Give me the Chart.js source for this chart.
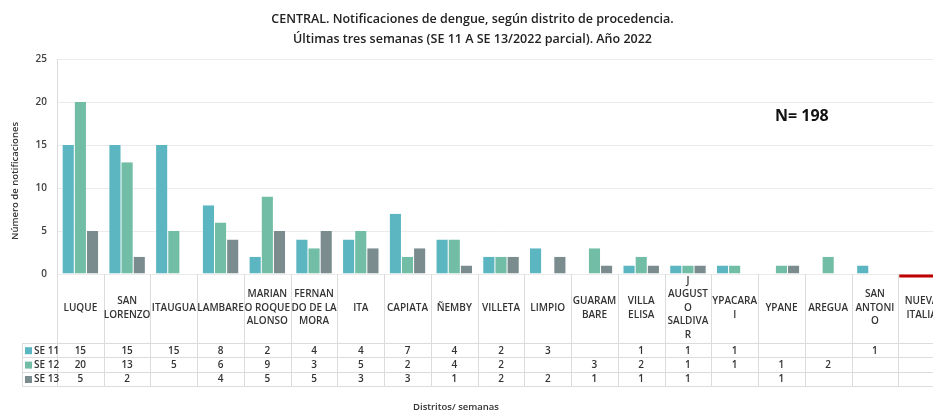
<!DOCTYPE html>
<html>
<head>
<meta charset="utf-8">
<script src="https://cdn.jsdelivr.net/npm/chart.js@4"></script>
<style>
    html, body { margin: 0; padding: 0; background: #fff; overflow: hidden; }
    #wrap { width: 957px; height: 410px; }
</style>
</head>
<body>
<div id="wrap"><canvas id="chart" width="957" height="410"></canvas></div>
<script>
// Districts (label lines as wrapped in the original table)
const districts = [
    ['LUQUE'], ['SAN', 'LORENZO'], ['ITAUGUA'], ['LAMBARE'],
    ['MARIAN', 'O ROQUE', 'ALONSO'], ['FERNAN', 'DO DE LA', 'MORA'],
    ['ITA'], ['CAPIATA'], ['ÑEMBY'], ['VILLETA'], ['LIMPIO'],
    ['GUARAM', 'BARE'], ['VILLA', 'ELISA'], ['J', 'AUGUST', 'O', 'SALDIVA', 'R'],
    ['YPACARA', 'I'], ['YPANE'], ['AREGUA'], ['SAN', 'ANTONI', 'O'], ['NUEVA', 'ITALIA']
];
const weeks = ['SE 11', 'SE 12', 'SE 13'];
const se11 = [15, 15, 15, 8, 2, 4, 4, 7, 4, 2, 3, null, 1, 1, 1, null, null, 1, null];
const se12 = [20, 13, 5, 6, 9, 3, 5, 2, 4, 2, null, 3, 2, 1, 1, 1, 2, null, null];
const se13 = [5, 2, null, 4, 5, 5, 3, 3, 1, 2, 2, 1, 1, 1, null, 1, null, null, null];
const yTicks = [0, 5, 10, 15, 20, 25];
const totalN = 198;

const colors = ['#5bb6c2', '#72bda5', '#7a8c8e'];
const FONT = '"Open Sans", "Noto Sans", sans-serif';
const series = [se11, se12, se13];

// Draws the data table under the axis, axis titles, the N label and the red marker
const tablePlugin = {
    id: 'dataTable',
    afterDraw(chart) {
        const ctx = chart.ctx;
        const x = chart.scales.x;
        const y = chart.scales.y;
        const area = chart.chartArea;
        const n = districts.length;
        const cw = (area.right - area.left) / n;
        const rowTop = 343, rowH = 14.4;
        const tableBottom = rowTop + rowH * 3;
        const labelLeft = 22;

        ctx.save();
        ctx.strokeStyle = '#dcdcdc';
        ctx.lineWidth = 1;

        // vertical dividers
        for (let i = 0; i <= n; i++) {
            const bx = Math.round(area.left + i * cw) + 0.5;
            ctx.beginPath();
            ctx.moveTo(bx, area.bottom);
            ctx.lineTo(bx, tableBottom);
            ctx.stroke();
        }
        // label column left edge
        ctx.beginPath();
        ctx.moveTo(labelLeft + 0.5, rowTop);
        ctx.lineTo(labelLeft + 0.5, tableBottom);
        ctx.stroke();
        // row lines
        for (let r = 0; r <= 3; r++) {
            const ry = Math.round(rowTop + r * rowH) + 0.5;
            ctx.beginPath();
            ctx.moveTo(labelLeft, ry);
            ctx.lineTo(area.right, ry);
            ctx.stroke();
        }

        // district names
        ctx.fillStyle = '#333';
        ctx.font = '600 10px ' + FONT;
        ctx.textAlign = 'center';
        ctx.textBaseline = 'middle';
        const lh = 13.4;
        districts.forEach((lines, i) => {
            const cx = x.getPixelForValue(i);
            const start = 308 - (lines.length - 1) * lh / 2;
            lines.forEach((t, k) => ctx.fillText(t, cx, start + k * lh));
        });

        // values
        series.forEach((data, r) => {
            const cy = rowTop + r * rowH + rowH / 2 + 0.5;
            data.forEach((v, i) => {
                if (v !== null) ctx.fillText(String(v), x.getPixelForValue(i), cy);
            });
            // legend key + week label
            ctx.fillStyle = colors[r];
            ctx.fillRect(labelLeft + 3, cy - 3.5, 7, 7);
            ctx.fillStyle = '#333';
            ctx.textAlign = 'left';
            ctx.fillText(weeks[r], labelLeft + 12, cy);
            ctx.textAlign = 'center';
        });

        // x axis title
        ctx.font = '600 9.5px ' + FONT;
        ctx.fillText('Distritos/ semanas', 456, 407);

        // y axis title
        ctx.save();
        ctx.translate(15, 181);
        ctx.rotate(-Math.PI / 2);
        ctx.fillText('Número de notificaciones', 0, 0);
        ctx.restore();

        // N label
        ctx.font = 'bold 16px ' + FONT;
        ctx.fillStyle = '#111';
        ctx.textAlign = 'left';
        ctx.fillText('N= ' + totalN, 775, 116);

        // red marker on the last category baseline
        const lastLeft = area.left + (n - 1) * cw;
        ctx.strokeStyle = '#c00000';
        ctx.lineWidth = 3;
        ctx.beginPath();
        ctx.moveTo(lastLeft + 1, y.getPixelForValue(0) + 2);
        ctx.lineTo(area.right + 20, y.getPixelForValue(0) + 2);
        ctx.stroke();
        ctx.restore();
    }
};

new Chart(document.getElementById('chart'), {
    type: 'bar',
    data: {
        labels: districts.map(d => d.join(' ')),
        datasets: weeks.map((w, i) => ({
            label: w,
            data: series[i],
            backgroundColor: colors[i],
            borderColor: '#ffffff',
            borderWidth: { left: 0.5, right: 0.5, top: 0, bottom: 0 },
            categoryPercentage: 0.78,
            barPercentage: 1.0
        }))
    },
    options: {
        responsive: false,
        animation: false,
        layout: { padding: { left: 0, right: 12, top: 0, bottom: 136 } },
        scales: {
            x: { display: false },
            y: {
                min: 0,
                max: 25,
                afterFit(scale) { scale.width = 57; },
                afterBuildTicks(scale) { scale.ticks = yTicks.map(v => ({ value: v })); },
                grid: { color: '#ebebeb', drawTicks: false },
                border: { color: '#dcdcdc' },
                ticks: {
                    padding: 10,
                    color: '#404040',
                    font: { family: FONT, size: 10, weight: '600' }
                }
            }
        },
        plugins: {
            legend: { display: false },
            tooltip: { enabled: false },
            title: {
                display: true,
                text: [
                    'CENTRAL. Notificaciones de dengue, según distrito de procedencia.',
                    'Últimas tres semanas (SE 11 A SE 13/2022 parcial). Año 2022'
                ],
                color: '#222',
                font: { family: FONT, size: 12.5, weight: '600', lineHeight: 1.56 },
                padding: { top: 10, bottom: 10 }
            }
        }
    },
    plugins: [tablePlugin]
});
</script>
</body>
</html>
